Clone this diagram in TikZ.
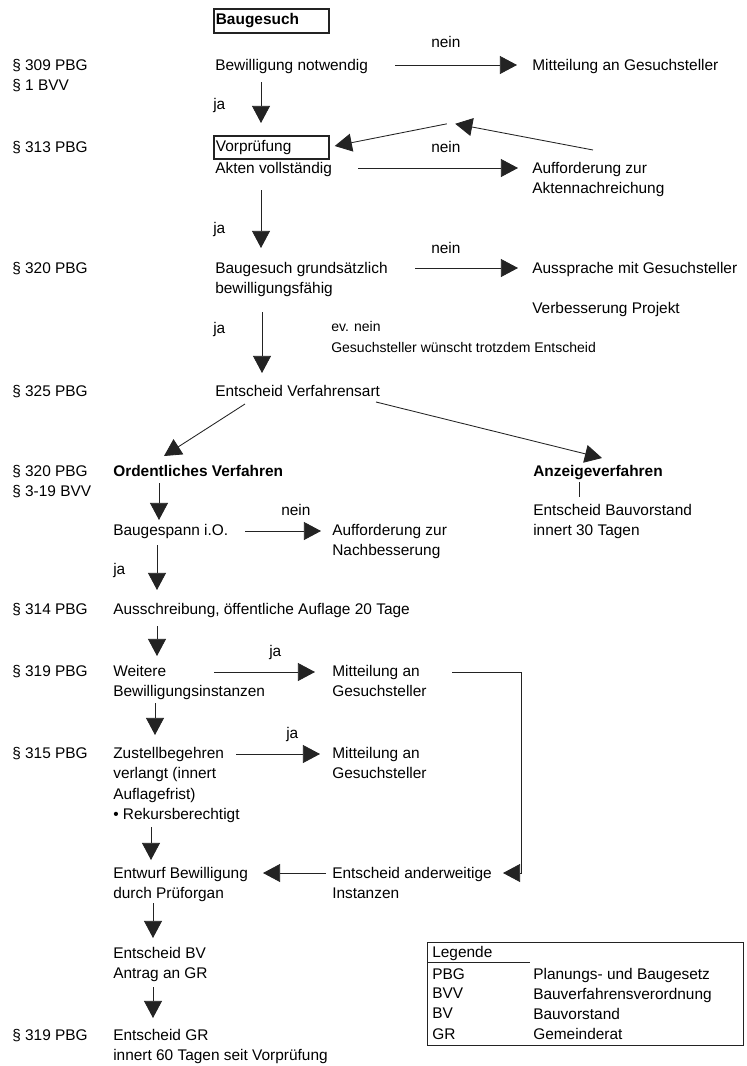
\documentclass[tikz,border=0pt]{standalone}
\usepackage{fontspec}
\setmainfont{Liberation Sans}
\usepackage{tikz}
\usetikzlibrary{arrows.meta,calc}
\definecolor{ink}{HTML}{232323}

\begin{document}
\begin{tikzpicture}[x=0.7pt,y=-0.7pt,font=\fontsize{10.8}{14.2}\selectfont,
  txt/.style={anchor=north west,inner sep=0pt,align=left,text=black},
  small/.style={txt,font=\fontsize{9.8}{14.7}\selectfont},
  stepbox/.style={draw=ink,line width=1.2pt,anchor=north west,inner xsep=1.4pt,text height=8pt,text depth=2.4pt,text width=77.7pt,align=left},
  arr/.style={-{Triangle[length=12pt,width=12.6pt]},ink,line width=0.6pt}]
\useasboundingbox (0,0) rectangle (747,1066);
% left column : legal basis
\node[txt] (l309)  at (12,59)   {§ 309 PBG\\§ 1 BVV};
\node[txt] (l313)  at (12,141)  {§ 313 PBG};
\node[txt] (l320a) at (12,262)  {§ 320 PBG};
\node[txt] (l325)  at (12,385)  {§ 325 PBG};
\node[txt] (l320b) at (12,465)  {§ 320 PBG\\§ 3-19 BVV};
\node[txt] (l314)  at (12,603)  {§ 314 PBG};
\node[txt] (l319a) at (12,665)  {§ 319 PBG};
\node[txt] (l315)  at (12,747)  {§ 315 PBG};
\node[txt] (l319b) at (12,1029) {§ 319 PBG};
% upper part : examination
\node[stepbox,inner ysep=3.2pt] (gesuch) at (213,8) {\textbf{Baugesuch}};
\node[txt] (bew)   at (215,59)  {Bewilligung notwendig};
\node[txt] (nein1) at (431,36)  {nein};
\node[txt] (mitt1) at (532,59)  {Mitteilung an Gesuchsteller};
\node[txt] (ja1)   at (213,98)  {ja};
\node[stepbox,inner ysep=2.8pt] (vor) at (213,135) {Vorprüfung};
\node[txt] (nein2) at (431,141) {nein};
\node[txt] (akten) at (215,162) {Akten vollständig};
\node[txt] (auff1) at (532,162) {Aufforderung zur\\Aktennachreichung};
\coordinate (ret) at (451,123);
\node[txt] (ja2)   at (213,222) {ja};
\node[txt] (nein3) at (431,242) {nein};
\node[txt] (grund) at (215,262) {Baugesuch grundsätzlich\\bewilligungsfähig};
\node[txt] (aussp) at (532,262) {Aussprache mit Gesuchsteller};
\node[txt] (verb)  at (532,302) {Verbesserung Projekt};
\node[txt] (ja3)   at (213,322) {ja};
\node[small] (evnein) at (331,321) {ev. nein\\Gesuchsteller wünscht trotzdem Entscheid};
\node[txt] (verf)  at (215,385) {Entscheid Verfahrensart};
% lower part : procedure
\node[txt] (ord)   at (113,465) {\textbf{Ordentliches Verfahren}};
\node[txt] (anz)   at (533,465) {\textbf{Anzeigeverfahren}};
\node[txt] (bauv)  at (533,504) {Entscheid Bauvorstand\\innert 30 Tagen};
\node[txt] (nein4) at (281,504) {nein};
\node[txt] (gespann) at (113,524) {Baugespann i.O.};
\node[txt] (nachb) at (332,524) {Aufforderung zur\\Nachbesserung};
\node[txt] (ja4)   at (113,563) {ja};
\node[txt] (aussch) at (113,603) {Ausschreibung, öffentliche Auflage 20 Tage};
\node[txt] (ja5)   at (269,645) {ja};
\node[txt] (weit)  at (113,665) {Weitere\\Bewilligungsinstanzen};
\node[txt] (mitt2) at (332,665) {Mitteilung an\\Gesuchsteller};
\node[txt] (ja6)   at (286,727) {ja};
\node[txt] (zust)  at (113,747) {Zustellbegehren\\verlangt (innert\\Auflagefrist)\\• Rekursberechtigt};
\node[txt] (mitt3) at (332,747) {Mitteilung an\\Gesuchsteller};
\node[txt] (entw)  at (113,867) {Entwurf Bewilligung\\durch Prüforgan};
\node[txt] (anderw) at (332,867) {Entscheid anderweitige\\Instanzen};
\node[txt] (bv)    at (113,947) {Entscheid BV\\Antrag an GR};
\node[txt] (gr)    at (113,1029) {Entscheid GR\\innert 60 Tagen seit Vorprüfung};
% arrows
\draw[arr] ($(bew.north west)+(180,6)$) -- ($(mitt1.north west)+(-15,6)$);
\draw[arr] ($(bew.north west)+(46,23)$) -- ($(vor.north west)+(48,-12)$);
\draw[arr,shorten >=3pt] ($(auff1.north west)+(61,-12)$) -- (ret);
\draw[arr,shorten <=3pt] (ret) -- ($(vor.north east)+(5,11)$);
\draw[arr] ($(akten.north west)+(143,6)$) -- ($(auff1.north west)+(-14,6)$);
\draw[arr] ($(akten.north west)+(46,28)$) -- ($(grund.north west)+(46,-14)$);
\draw[arr] ($(grund.north west)+(200,6)$) -- ($(aussp.north west)+(-14,6)$);
\draw[arr] ($(grund.north west)+(47,50)$) -- ($(verf.north west)+(47,-12)$);
\draw[arr] ($(verf.north west)+(30,19)$) -- ($(ord.north west)+(51,-9)$);
\draw[arr] ($(verf.north west)+(161,17)$) -- ($(anz.north west)+(69,-7)$);
\draw[ink,line width=0.6pt] ($(anz.north west)+(46,17)$) -- ($(bauv.north west)+(46,-7)$);
\draw[arr] ($(ord.north west)+(46,18)$) -- ($(gespann.north west)+(46,-4)$);
\draw[arr] ($(gespann.north west)+(132,7)$) -- ($(nachb.north west)+(-11,7)$);
\draw[arr] ($(gespann.north west)+(44,21)$) -- ($(aussch.north west)+(44,-13)$);
\draw[arr] ($(aussch.north west)+(44,23)$) -- ($(weit.north west)+(44,-9)$);
\draw[arr] ($(weit.north west)+(101,7)$) -- ($(mitt2.north west)+(-17,7)$);
\draw[arr] ($(mitt2.north west)+(120,7)$) -- ++(69,0) |- ($(anderw.north west)+(171,6)$);
\draw[arr] ($(weit.north west)+(42,38)$) -- ($(zust.north west)+(42,-12)$);
\draw[arr] ($(zust.north west)+(123,7)$) -- ($(mitt3.north west)+(-12,7)$);
\draw[arr] ($(zust.north west)+(38,80)$) -- ($(entw.north west)+(38,-7)$);
\draw[arr] ($(anderw.north west)+(-6,6)$) -- ($(entw.north west)+(150,6)$);
\draw[arr] ($(entw.north west)+(40,36)$) -- ($(bv.north west)+(40,-9)$);
\draw[arr] ($(bv.north west)+(40,40)$) -- ($(gr.north west)+(40,-11)$);
% legend
\node[draw=ink,line width=0.6pt,anchor=north west,inner sep=0pt,minimum width=221.2pt,minimum height=72.1pt] (legbox) at (427,942) {};
\draw[ink,line width=0.6pt] ($(legbox.north west)+(0,20)$) -- ++(103,0);
\node[txt] (lgd)  at (432,946)  {Legende};
\node[txt] (kpbg) at (432,968)  {PBG};
\node[txt] (kbvv) at (432,988)  {BVV};
\node[txt] (kbv)  at (432,1008) {BV};
\node[txt] (kgr)  at (432,1028) {GR};
\node[txt] (vpbg) at (533,968)  {Planungs- und Baugesetz};
\node[txt] (vbvv) at (533,988)  {Bauverfahrensverordnung};
\node[txt] (vbv)  at (533,1008) {Bauvorstand};
\node[txt] (vgr)  at (533,1028) {Gemeinderat};
\end{tikzpicture}
\end{document}
